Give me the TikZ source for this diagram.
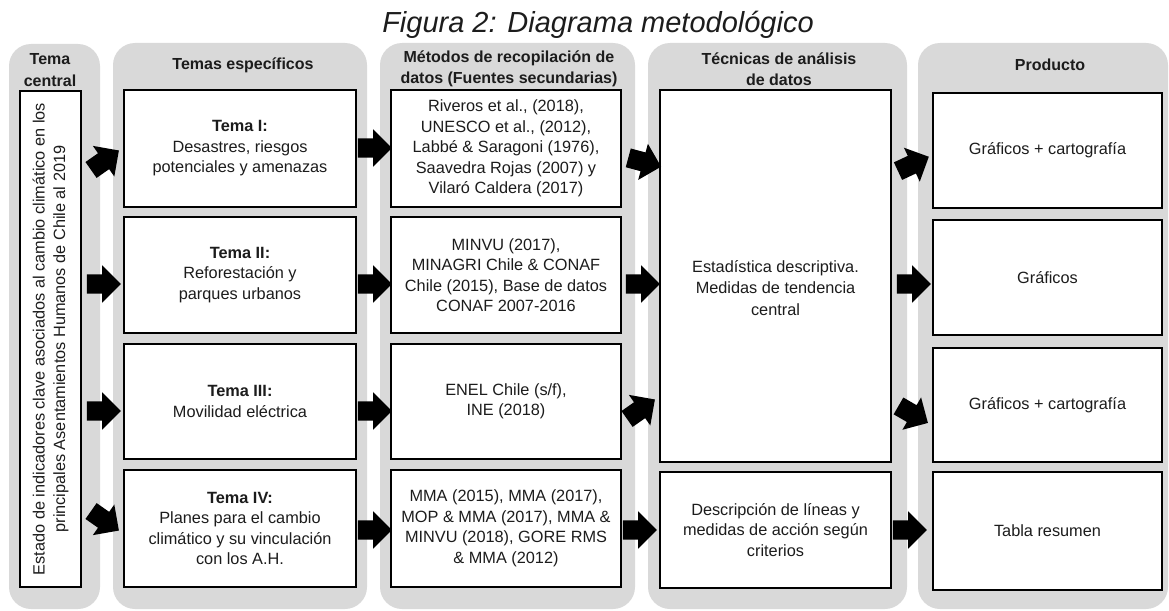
\documentclass[tikz,border=0pt]{standalone}
\usepackage{fontspec}
\setmainfont{Liberation Sans}
\usepackage{tikz}
\usetikzlibrary{shapes.arrows}
\definecolor{panelgray}{RGB}{217,217,217}
\definecolor{inkgray}{RGB}{28,28,28}

\tikzset{
  box/.style={draw=black, line width=1.8pt, fill=white, inner sep=2pt, align=center,
    text=inkgray, font=\fontsize{16.3}{20.5}\selectfont},
  head/.style={align=center, text=inkgray, font=\fontsize{16}{21.5}\selectfont\bfseries},
  blockarrow/.style={single arrow, fill=black, inner xsep=0pt, inner ysep=9.5pt,
    minimum width=37pt, minimum height=34pt, single arrow head extend=9pt},
}

\begin{document}
\begin{tikzpicture}[x=1pt,y=-1pt]
    \useasboundingbox (0,0) rectangle (1169,610);

    % Title
    \node[anchor=base, text=inkgray, font=\fontsize{29}{34}\selectfont\itshape] (titulo) at (598,33) {Figura 2: Diagrama metodológico};

    % Gray columns
    \fill[panelgray, rounded corners=22pt] (9,44) rectangle (100,609);
    \fill[panelgray, rounded corners=22pt] (113,43) rectangle (367,609);
    \fill[panelgray, rounded corners=22pt] (380,43) rectangle (635,609);
    \fill[panelgray, rounded corners=22pt] (648,43) rectangle (907,609);
    \fill[panelgray, rounded corners=22pt] (918,43) rectangle (1168,609);

    % Headers
    \node[head] (hcentral) at (50,70) {Tema\\central};
    \node[head] (hespecificos) at (243,65) {Temas específicos};
    \node[head] (hmetodos) at (509,69) {Métodos de recopilación de\\datos (Fuentes secundarias)};
    \node[head] (htecnicas) at (779,69) {Técnicas de análisis\\de datos};
    \node[head] (hproducto) at (1050,65) {Producto};

    % Tema central
    \node[box, rotate=90, minimum width=496pt, minimum height=61pt] (central) at (50.5,339)
      {Estado de indicadores clave asociados al cambio climático en los\\principales Asentamientos Humanos de Chile al 2019};

    % Temas especificos
    \node[box, minimum width=232pt, minimum height=117pt] (tema1) at (240,148.5)
      {\textbf{Tema I:}\\Desastres, riesgos\\potenciales y amenazas};
    \node[box, minimum width=232pt, minimum height=116pt] (tema2) at (240,275)
      {\textbf{Tema II:}\\Reforestación y\\parques urbanos};
    \node[box, minimum width=232pt, minimum height=115pt] (tema3) at (240,401.5)
      {\textbf{Tema III:}\\Movilidad eléctrica};
    \node[box, minimum width=232pt, minimum height=117pt] (tema4) at (240,528.5)
      {\textbf{Tema IV:}\\Planes para el cambio\\climático y su vinculación\\con los A.H.};

    % Fuentes secundarias
    \node[box, minimum width=230pt, minimum height=117pt] (fuente1) at (506,148.5)
      {Riveros et al., (2018),\\UNESCO et al., (2012),\\Labbé \& Saragoni (1976),\\Saavedra Rojas (2007) y\\Vilaró Caldera (2017)};
    \node[box, minimum width=230pt, minimum height=116pt] (fuente2) at (506,275)
      {MINVU (2017),\\MINAGRI Chile \& CONAF\\Chile (2015), Base de datos\\CONAF 2007-2016};
    \node[box, minimum width=230pt, minimum height=115pt] (fuente3) at (506,401.5)
      {ENEL Chile (s/f),\\INE (2018)};
    \node[box, minimum width=230pt, minimum height=117pt] (fuente4) at (506,528.5)
      {MMA (2015), MMA (2017),\\MOP \& MMA (2017), MMA \&\\MINVU (2018), GORE RMS\\\& MMA (2012)};

    % Tecnicas de analisis
    \node[box, minimum width=231pt, minimum height=372pt] (estadistica) at (775.5,276) {};
    \node[text=inkgray, align=center, font=\fontsize{16.3}{21.5}\selectfont] (estadtexto) at (775.5,288)
      {Estadística descriptiva.\\Medidas de tendencia\\central};
    \node[box, minimum width=231pt, minimum height=116pt] (descripcion) at (775.5,530)
      {Descripción de líneas y\\medidas de acción según\\criterios};

    % Producto
    \node[box, minimum width=229pt, minimum height=115pt] (producto1) at (1047.5,150.5) {Gráficos + cartografía};
    \node[box, minimum width=229pt, minimum height=115pt] (producto2) at (1047.5,277.5) {Gráficos};
    \node[box, minimum width=229pt, minimum height=114pt] (producto3) at (1047.5,405) {Gráficos + cartografía};
    \node[box, minimum width=229pt, minimum height=118pt] (producto4) at (1047.5,531) {Tabla resumen};

    % Block arrows
    \node[blockarrow, rotate=35] (a11) at (101,163) {};
    \node[blockarrow] (a12) at (99,284) {};
    \node[blockarrow] (a13) at (99,411) {};
    \node[blockarrow, rotate=-35] (a14) at (101,518) {};

    \node[blockarrow] (a21) at (370,148) {};
    \node[blockarrow] (a22) at (370,284) {};
    \node[blockarrow] (a23) at (370,411) {};
    \node[blockarrow] (a24) at (370,530) {};

    \node[blockarrow, rotate=-15] (a31) at (640,161) {};
    \node[blockarrow] (a32) at (638,284) {};
    \node[blockarrow, rotate=35] (a33) at (637,412) {};
    \node[blockarrow] (a34) at (635,530) {};

    \node[blockarrow, rotate=25] (a41) at (909,166) {};
    \node[blockarrow] (a42) at (909,284) {};
    \node[blockarrow, rotate=-30] (a43) at (909,412) {};
    \node[blockarrow] (a44) at (905,530) {};
\end{tikzpicture}
\end{document}
